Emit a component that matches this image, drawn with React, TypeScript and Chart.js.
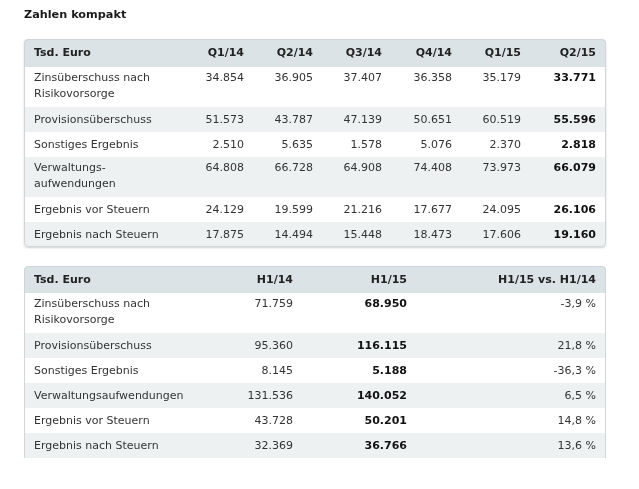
import React, { useEffect, useRef } from "react";
import { Chart, registerables } from "chart.js";

Chart.register(...registerables);

// ---------- data ----------
const title = "Zahlen kompakt";
const unitLabel = "Tsd. Euro";
const quarters = ["Q1/14", "Q2/14", "Q3/14", "Q4/14", "Q1/15", "Q2/15"];
const halfYears = ["H1/14", "H1/15", "H1/15 vs. H1/14"];

const rowLabelsQ = [
  ["Zinsüberschuss nach", "Risikovorsorge"],
  ["Provisionsüberschuss"],
  ["Sonstiges Ergebnis"],
  ["Verwaltungs-", "aufwendungen"],
  ["Ergebnis vor Steuern"],
  ["Ergebnis nach Steuern"],
];
const rowLabelsH = [
  ["Zinsüberschuss nach", "Risikovorsorge"],
  ["Provisionsüberschuss"],
  ["Sonstiges Ergebnis"],
  ["Verwaltungsaufwendungen"],
  ["Ergebnis vor Steuern"],
  ["Ergebnis nach Steuern"],
];

const zinsQ = [34854, 36905, 37407, 36358, 35179, 33771];
const provQ = [51573, 43787, 47139, 50651, 60519, 55596];
const sonstQ = [2510, 5635, 1578, 5076, 2370, 2818];
const verwQ = [64808, 66728, 64908, 74408, 73973, 66079];
const vorStQ = [24129, 19599, 21216, 17677, 24095, 26106];
const nachStQ = [17875, 14494, 15448, 18473, 17606, 19160];

const h1_14 = [71759, 95360, 8145, 131536, 43728, 32369];
const h1_15 = [68950, 116115, 5188, 140052, 50201, 36766];
const changePct = [-3.9, 21.8, -36.3, 6.5, 14.8, 13.6];

// ---------- helpers ----------
const fmtInt = (n: number) =>
  n.toString().replace(/\B(?=(\d{3})+(?!\d))/g, ".");
const fmtPct = (n: number) => n.toFixed(1).replace(".", ",") + " %";

const FONT = '"DejaVu Sans", Verdana, sans-serif';
const C_HEAD_BG = "#dce3e6";
const C_ALT_BG = "#eef1f2";
const C_BORDER = "#cfd5d8";
const C_TEXT = "#333333";
const C_BOLD = "#111111";

type TableSpec = {
  x: number;
  y: number;
  w: number;
  headerH: number;
  labelX: number;
  colRight: number[];
  headers: string[];
  labels: string[][];
  cells: string[][];
  boldCol: number;
  closedBottom: boolean;
};

function roundRectPath(
  ctx: CanvasRenderingContext2D,
  x: number,
  y: number,
  w: number,
  h: number,
  r: number,
  bottomRound: boolean
) {
  ctx.beginPath();
  ctx.moveTo(x + r, y);
  ctx.lineTo(x + w - r, y);
  ctx.quadraticCurveTo(x + w, y, x + w, y + r);
  if (bottomRound) {
    ctx.lineTo(x + w, y + h - r);
    ctx.quadraticCurveTo(x + w, y + h, x + w - r, y + h);
    ctx.lineTo(x + r, y + h);
    ctx.quadraticCurveTo(x, y + h, x, y + h - r);
  } else {
    ctx.lineTo(x + w, y + h);
    ctx.lineTo(x, y + h);
  }
  ctx.lineTo(x, y + r);
  ctx.quadraticCurveTo(x, y, x + r, y);
  ctx.closePath();
}

function drawTable(ctx: CanvasRenderingContext2D, t: TableSpec) {
  const rowH = t.labels.map((l) => (l.length > 1 ? 40 : 25));
  const totalH = t.headerH + rowH.reduce((a, b) => a + b, 0);

  ctx.save();
  roundRectPath(ctx, t.x, t.y, t.w, totalH, 4, t.closedBottom);
  if (t.closedBottom) {
    ctx.shadowColor = "rgba(0,0,0,0.18)";
    ctx.shadowBlur = 2;
    ctx.shadowOffsetY = 1;
  }
  ctx.fillStyle = "#ffffff";
  ctx.fill();
  ctx.restore();

  ctx.save();
  roundRectPath(ctx, t.x, t.y, t.w, totalH, 4, t.closedBottom);
  ctx.clip();
  ctx.fillStyle = C_HEAD_BG;
  ctx.fillRect(t.x, t.y, t.w, t.headerH);
  let yy = t.y + t.headerH;
  rowH.forEach((h, i) => {
    if (i % 2 === 1) {
      ctx.fillStyle = C_ALT_BG;
      ctx.fillRect(t.x, yy, t.w, h);
    }
    yy += h;
  });
  ctx.restore();

  ctx.save();
  ctx.strokeStyle = C_BORDER;
  ctx.lineWidth = 1;
  if (t.closedBottom) {
    roundRectPath(ctx, t.x + 0.5, t.y + 0.5, t.w - 1, totalH - 1, 4, true);
    ctx.stroke();
  } else {
    ctx.beginPath();
    ctx.moveTo(t.x + 0.5, t.y + totalH);
    ctx.lineTo(t.x + 0.5, t.y + 4.5);
    ctx.quadraticCurveTo(t.x + 0.5, t.y + 0.5, t.x + 4.5, t.y + 0.5);
    ctx.lineTo(t.x + t.w - 4.5, t.y + 0.5);
    ctx.quadraticCurveTo(t.x + t.w - 0.5, t.y + 0.5, t.x + t.w - 0.5, t.y + 4.5);
    ctx.lineTo(t.x + t.w - 0.5, t.y + totalH);
    ctx.stroke();
  }
  ctx.restore();

  ctx.save();
  ctx.textBaseline = "middle";
  ctx.font = `bold 11px ${FONT}`;
  ctx.fillStyle = "#222222";
  const hy = t.y + t.headerH / 2 + 0.5;
  ctx.textAlign = "left";
  ctx.fillText(unitLabel, t.labelX, hy);
  ctx.textAlign = "right";
  t.headers.forEach((h, i) => ctx.fillText(h, t.colRight[i], hy));

  yy = t.y + t.headerH;
  t.labels.forEach((lines, r) => {
    const h = rowH[r];
    const firstY = lines.length > 1 ? yy + 11.5 : yy + h / 2 + 0.5;
    ctx.font = `11px ${FONT}`;
    ctx.fillStyle = C_TEXT;
    ctx.textAlign = "left";
    lines.forEach((ln, k) => ctx.fillText(ln, t.labelX, firstY + k * 16));
    ctx.textAlign = "right";
    t.cells[r].forEach((c, ci) => {
      if (ci === t.boldCol) {
        ctx.font = `bold 11px ${FONT}`;
        ctx.fillStyle = C_BOLD;
      } else {
        ctx.font = `11px ${FONT}`;
        ctx.fillStyle = C_TEXT;
      }
      ctx.fillText(c, t.colRight[ci], firstY);
    });
    yy += h;
  });
  ctx.restore();
}

const qSeries = [zinsQ, provQ, sonstQ, verwQ, vorStQ, nachStQ];

const tablePlugin = {
  id: "tables",
  beforeDraw(chart: any) {
    const ctx: CanvasRenderingContext2D = chart.ctx;
    ctx.save();
    ctx.fillStyle = "#ffffff";
    ctx.fillRect(0, 0, chart.width, chart.height);

    ctx.font = `bold 11.25px ${FONT}`;
    ctx.fillStyle = "#1a1a1a";
    ctx.textBaseline = "middle";
    ctx.textAlign = "left";
    ctx.fillText(title, 24, 15.5);
    ctx.restore();

    drawTable(ctx, {
      x: 24,
      y: 39,
      w: 582,
      headerH: 28,
      labelX: 34,
      colRight: [244, 313, 382, 452, 521, 596],
      headers: quarters,
      labels: rowLabelsQ,
      cells: qSeries.map((s) => s.map(fmtInt)),
      boldCol: 5,
      closedBottom: true,
    });

    drawTable(ctx, {
      x: 24,
      y: 266,
      w: 582,
      headerH: 27,
      labelX: 34,
      colRight: [293, 407, 596],
      headers: halfYears,
      labels: rowLabelsH,
      cells: h1_14.map((v, i) => [
        fmtInt(v),
        fmtInt(h1_15[i]),
        fmtPct(changePct[i]),
      ]),
      boldCol: 1,
      closedBottom: false,
    });
  },
};

export default function App() {
  const ref = useRef<HTMLCanvasElement | null>(null);
  useEffect(() => {
    if (!ref.current) return;
    const chart = new Chart(ref.current, {
      type: "bar",
      data: { labels: quarters, datasets: [] },
      options: {
        animation: false,
        responsive: false,
        events: [],
        scales: { x: { display: false }, y: { display: false } },
        plugins: { legend: { display: false }, tooltip: { enabled: false } },
      },
      plugins: [tablePlugin],
    } as any);
    return () => chart.destroy();
  }, []);
  return (
    <div style={{ position: "fixed", left: 0, top: 0, width: 639, height: 489, background: "#fff" }}>
      <canvas ref={ref} width={639} height={489} />
    </div>
  );
}
